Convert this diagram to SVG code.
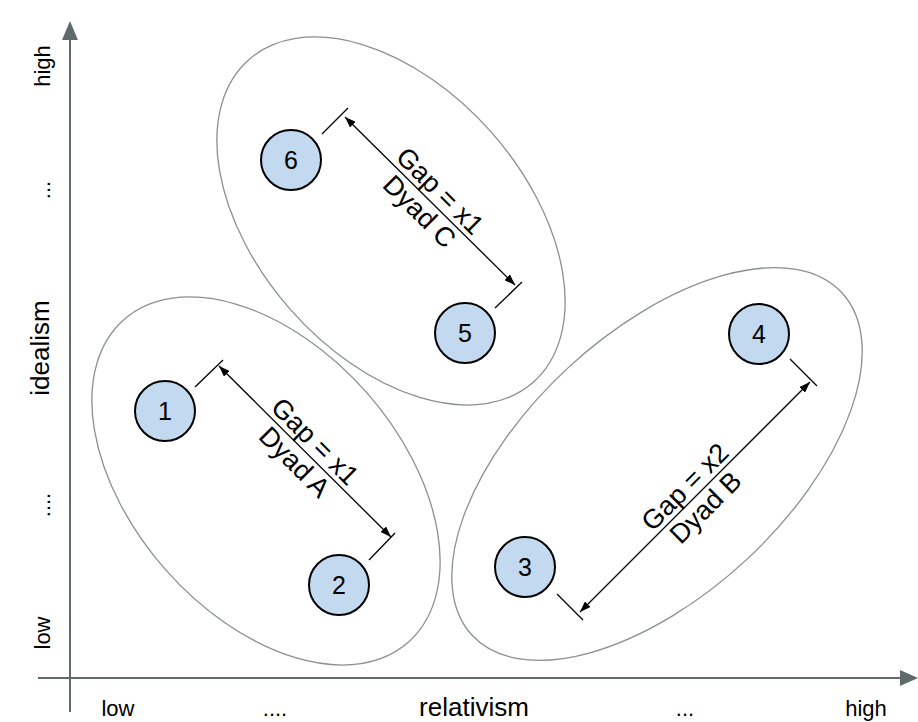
<svg xmlns="http://www.w3.org/2000/svg" width="918" height="722" viewBox="0 0 918 722">
<style>
.axis{stroke:#5f6a6a;stroke-width:2;fill:none}
.ah{fill:#5f6a6a;stroke:none}
.ell{fill:none;stroke:#8a8f8f;stroke-width:1.3}
.node circle{fill:#c2d9f0;stroke:#000;stroke-width:2}
.node text{font-family:"Liberation Sans",Arial,sans-serif;font-size:25px;fill:#000;text-anchor:middle}
.dim{stroke:#000;stroke-width:1.3;fill:none}
.lbl{font-family:"Liberation Sans",Arial,sans-serif;fill:#000;text-anchor:middle}
.gap{font-family:"Liberation Sans",Arial,sans-serif;font-size:27px;fill:#000;text-anchor:middle}
</style>
<defs>
<marker id="arr" viewBox="0 0 11 8" refX="11" refY="4" markerWidth="11" markerHeight="8" markerUnits="userSpaceOnUse" orient="auto-start-reverse">
<path d="M0,0 L11,4 L0,8 Z" fill="#000"/>
</marker>
</defs>
<rect width="918" height="722" fill="#fff"/>
<g id="axes">
<line class="axis" x1="70" y1="712" x2="70" y2="38"/>
<path class="ah" d="M70,21 L78,40 L62,40 Z"/>
<line class="axis" x1="38" y1="678" x2="902" y2="678"/>
<path class="ah" d="M918,678 L900,670 L900,686 Z"/>
<g class="lbl" font-size="22">
<text transform="translate(50,66) rotate(-90)">high</text>
<text transform="translate(50,190) rotate(-90)">...</text>
<text transform="translate(50,505) rotate(-90)">....</text>
<text transform="translate(50,633) rotate(-90)">low</text>
</g>
<text class="lbl" font-size="26" transform="translate(49,348) rotate(-90)">idealism</text>
<g class="lbl" font-size="22">
<text x="118" y="716">low</text>
<text x="275" y="716">....</text>
<text x="685" y="716">...</text>
<text x="866" y="716">high</text>
</g>
<text class="lbl" font-size="26" x="474" y="716">relativism</text>
</g>
<g id="groups">
<ellipse id="groupA" class="ell" cx="266" cy="481" rx="215" ry="134" transform="rotate(48.6 266 481)"/>
<ellipse id="groupC" class="ell" cx="391" cy="221" rx="215" ry="134" transform="rotate(48.6 391 221)"/>
<ellipse id="groupB" class="ell" cx="657" cy="464" rx="252" ry="131" transform="rotate(-42.8 657 464)"/>
</g>
<g id="connectors">
<g id="dyadA">
<line class="dim" x1="223" y1="360" x2="195" y2="387"/>
<line class="dim" x1="395" y1="533" x2="369" y2="560"/>
<line class="dim" x1="219" y1="366" x2="391" y2="537" marker-start="url(#arr)" marker-end="url(#arr)"/>
<g transform="translate(305,451.5) rotate(45)">
<text class="gap" x="0" y="-5">Gap = x1</text>
<text class="gap" x="0" y="24">Dyad A</text>
</g>
</g>
<g id="dyadC">
<line class="dim" x1="348" y1="108" x2="322" y2="134"/>
<line class="dim" x1="522" y1="282" x2="495" y2="308"/>
<line class="dim" x1="345" y1="117" x2="515" y2="285" marker-start="url(#arr)" marker-end="url(#arr)"/>
<g transform="translate(430,201) rotate(45)">
<text class="gap" x="0" y="-5">Gap = x1</text>
<text class="gap" x="0" y="24">Dyad C</text>
</g>
</g>
<g id="dyadB">
<line class="dim" x1="790" y1="359" x2="817" y2="386"/>
<line class="dim" x1="557" y1="594" x2="583" y2="620"/>
<line class="dim" x1="810" y1="382" x2="580" y2="612" marker-start="url(#arr)" marker-end="url(#arr)"/>
<g transform="translate(695,497) rotate(-45)">
<text class="gap" x="0" y="-5">Gap = x2</text>
<text class="gap" x="0" y="24">Dyad B</text>
</g>
</g>
</g>
<g id="node1" class="node"><circle cx="165" cy="411" r="30"/><text x="165" y="420">1</text></g>
<g id="node2" class="node"><circle cx="339" cy="585" r="30"/><text x="339" y="594">2</text></g>
<g id="node3" class="node"><circle cx="525" cy="567" r="30"/><text x="525" y="576">3</text></g>
<g id="node4" class="node"><circle cx="759" cy="334" r="30"/><text x="759" y="343">4</text></g>
<g id="node5" class="node"><circle cx="465" cy="333" r="30"/><text x="465" y="342">5</text></g>
<g id="node6" class="node"><circle cx="291" cy="160" r="30"/><text x="291" y="169">6</text></g>
</svg>
